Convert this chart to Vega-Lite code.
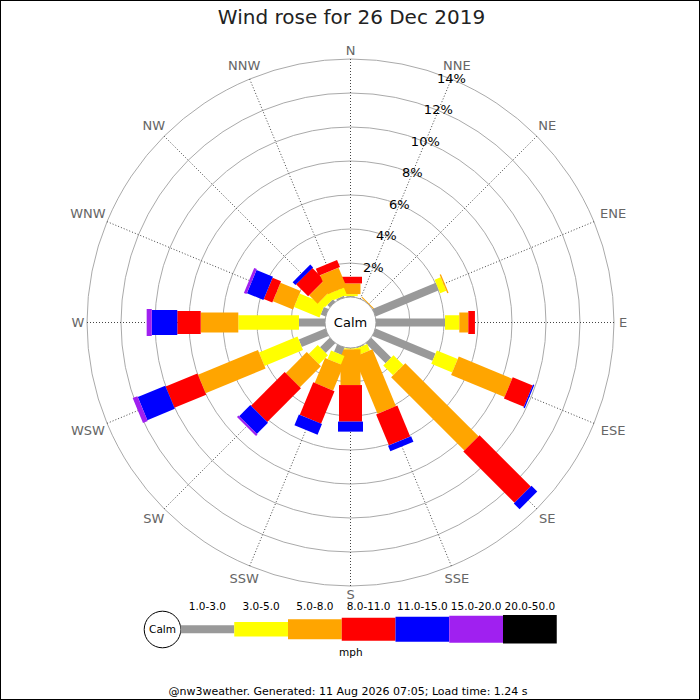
{
  "$schema": "https://vega.github.io/schema/vega-lite/v6.json",
  "width": 700,
  "height": 700,
  "autosize": "none",
  "padding": 0,
  "background": "white",
  "config": {
    "view": {"stroke": "black", "strokeWidth": 2},
    "text": {"font": "DejaVu Sans"}
  },
  "datasets": {
    "dirs": [
      {"dir": "N", "deg": 0}, {"dir": "NNE", "deg": 22.5}, {"dir": "NE", "deg": 45}, {"dir": "ENE", "deg": 67.5},
      {"dir": "E", "deg": 90}, {"dir": "ESE", "deg": 112.5}, {"dir": "SE", "deg": 135}, {"dir": "SSE", "deg": 157.5},
      {"dir": "S", "deg": 180}, {"dir": "SSW", "deg": 202.5}, {"dir": "SW", "deg": 225}, {"dir": "WSW", "deg": 247.5},
      {"dir": "W", "deg": 270}, {"dir": "WNW", "deg": 292.5}, {"dir": "NW", "deg": 315}, {"dir": "NNW", "deg": 337.5}
    ],
    "bins": [
      {"speed": "1.0-3.0", "order": 0}, {"speed": "3.0-5.0", "order": 1}, {"speed": "5.0-8.0", "order": 2},
      {"speed": "8.0-11.0", "order": 3}, {"speed": "11.0-15.0", "order": 4}, {"speed": "15.0-20.0", "order": 5},
      {"speed": "20.0-50.0", "order": 6}
    ],
    "rings": [{"pct": 2}, {"pct": 4}, {"pct": 6}, {"pct": 8}, {"pct": 10}, {"pct": 12}, {"pct": 14}],
    "rose": [
      {"dir": "N", "speed": "1.0-3.0", "pct": 0.05}, {"dir": "N", "speed": "3.0-5.0", "pct": 0.12},
      {"dir": "N", "speed": "5.0-8.0", "pct": 0.63}, {"dir": "N", "speed": "8.0-11.0", "pct": 0.39},
      {"dir": "NE", "speed": "5.0-8.0", "pct": 0.06},
      {"dir": "ENE", "speed": "1.0-3.0", "pct": 4.03}, {"dir": "ENE", "speed": "3.0-5.0", "pct": 0.39},
      {"dir": "ENE", "speed": "5.0-8.0", "pct": 0.08},
      {"dir": "E", "speed": "1.0-3.0", "pct": 4.06}, {"dir": "E", "speed": "3.0-5.0", "pct": 0.84},
      {"dir": "E", "speed": "5.0-8.0", "pct": 0.53}, {"dir": "E", "speed": "8.0-11.0", "pct": 0.39},
      {"dir": "ESE", "speed": "1.0-3.0", "pct": 3.82}, {"dir": "ESE", "speed": "3.0-5.0", "pct": 1.33},
      {"dir": "ESE", "speed": "5.0-8.0", "pct": 3.40}, {"dir": "ESE", "speed": "8.0-11.0", "pct": 1.27},
      {"dir": "ESE", "speed": "11.0-15.0", "pct": 0.08},
      {"dir": "SE", "speed": "1.0-3.0", "pct": 1.65}, {"dir": "SE", "speed": "3.0-5.0", "pct": 0.82},
      {"dir": "SE", "speed": "5.0-8.0", "pct": 6.09}, {"dir": "SE", "speed": "8.0-11.0", "pct": 4.26},
      {"dir": "SE", "speed": "11.0-15.0", "pct": 0.48},
      {"dir": "SSE", "speed": "1.0-3.0", "pct": 0.05}, {"dir": "SSE", "speed": "3.0-5.0", "pct": 0.40},
      {"dir": "SSE", "speed": "5.0-8.0", "pct": 3.62}, {"dir": "SSE", "speed": "8.0-11.0", "pct": 1.97},
      {"dir": "SSE", "speed": "11.0-15.0", "pct": 0.36},
      {"dir": "S", "speed": "1.0-3.0", "pct": 0.02}, {"dir": "S", "speed": "3.0-5.0", "pct": 0.06},
      {"dir": "S", "speed": "5.0-8.0", "pct": 2.10}, {"dir": "S", "speed": "8.0-11.0", "pct": 2.15},
      {"dir": "S", "speed": "11.0-15.0", "pct": 0.59},
      {"dir": "SSW", "speed": "1.0-3.0", "pct": 0.46}, {"dir": "SSW", "speed": "3.0-5.0", "pct": 0.54},
      {"dir": "SSW", "speed": "5.0-8.0", "pct": 1.59}, {"dir": "SSW", "speed": "8.0-11.0", "pct": 2.07},
      {"dir": "SSW", "speed": "11.0-15.0", "pct": 0.68},
      {"dir": "SW", "speed": "1.0-3.0", "pct": 0.80}, {"dir": "SW", "speed": "3.0-5.0", "pct": 0.75},
      {"dir": "SW", "speed": "5.0-8.0", "pct": 1.75}, {"dir": "SW", "speed": "8.0-11.0", "pct": 2.80},
      {"dir": "SW", "speed": "11.0-15.0", "pct": 0.93}, {"dir": "SW", "speed": "15.0-20.0", "pct": 0.12},
      {"dir": "WSW", "speed": "1.0-3.0", "pct": 1.70}, {"dir": "WSW", "speed": "3.0-5.0", "pct": 2.45},
      {"dir": "WSW", "speed": "5.0-8.0", "pct": 3.82}, {"dir": "WSW", "speed": "8.0-11.0", "pct": 2.02},
      {"dir": "WSW", "speed": "11.0-15.0", "pct": 1.75}, {"dir": "WSW", "speed": "15.0-20.0", "pct": 0.30},
      {"dir": "W", "speed": "1.0-3.0", "pct": 1.53}, {"dir": "W", "speed": "3.0-5.0", "pct": 3.57},
      {"dir": "W", "speed": "5.0-8.0", "pct": 2.21}, {"dir": "W", "speed": "8.0-11.0", "pct": 1.38},
      {"dir": "W", "speed": "11.0-15.0", "pct": 1.50}, {"dir": "W", "speed": "15.0-20.0", "pct": 0.30},
      {"dir": "WNW", "speed": "1.0-3.0", "pct": 0.30}, {"dir": "WNW", "speed": "3.0-5.0", "pct": 1.62},
      {"dir": "WNW", "speed": "5.0-8.0", "pct": 1.28}, {"dir": "WNW", "speed": "8.0-11.0", "pct": 0.54},
      {"dir": "WNW", "speed": "11.0-15.0", "pct": 1.05}, {"dir": "WNW", "speed": "15.0-20.0", "pct": 0.17},
      {"dir": "NW", "speed": "1.0-3.0", "pct": 0.20}, {"dir": "NW", "speed": "3.0-5.0", "pct": 0.45},
      {"dir": "NW", "speed": "5.0-8.0", "pct": 0.70}, {"dir": "NW", "speed": "8.0-11.0", "pct": 1.00},
      {"dir": "NW", "speed": "11.0-15.0", "pct": 0.23},
      {"dir": "NNW", "speed": "1.0-3.0", "pct": 0.10}, {"dir": "NNW", "speed": "3.0-5.0", "pct": 0.45},
      {"dir": "NNW", "speed": "5.0-8.0", "pct": 1.20}, {"dir": "NNW", "speed": "8.0-11.0", "pct": 0.45}
    ]
  },
  "layer": [
    {
      "data": {"name": "rings"},
      "transform": [{"calculate": "25.5 + 17 * datum.pct", "as": "r"}],
      "mark": {"type": "arc", "theta": 0, "theta2": 6.2832, "filled": false, "stroke": "#aaaaaa", "strokeWidth": 1},
      "encoding": {
        "x": {"datum": 0, "type": "quantitative", "scale": {"domain": [-350.5, 349.5], "nice": false, "zero": false}, "axis": null},
        "y": {"datum": 0, "type": "quantitative", "scale": {"domain": [-377.5, 322.5], "nice": false, "zero": false}, "axis": null},
        "radius": {"field": "r", "type": "quantitative", "scale": null, "stack": null}
      }
    },
    {
      "data": {"name": "dirs"},
      "transform": [
        {"calculate": "datum.deg * PI / 180", "as": "a"},
        {"calculate": "25.5 * sin(datum.a)", "as": "sx"},
        {"calculate": "25.5 * cos(datum.a)", "as": "sy"},
        {"calculate": "263.5 * sin(datum.a)", "as": "ex"},
        {"calculate": "263.5 * cos(datum.a)", "as": "ey"}
      ],
      "mark": {"type": "rule", "stroke": "#444444", "strokeWidth": 1, "strokeDash": [1, 2]},
      "encoding": {
        "x": {"field": "sx", "type": "quantitative", "scale": {"domain": [-350.5, 349.5], "nice": false, "zero": false}, "axis": null},
        "y": {"field": "sy", "type": "quantitative", "scale": {"domain": [-377.5, 322.5], "nice": false, "zero": false}, "axis": null},
        "x2": {"field": "ex"},
        "y2": {"field": "ey"}
      }
    },
    {
      "data": {"name": "rose"},
      "transform": [
        {"lookup": "dir", "from": {"data": {"name": "dirs"}, "key": "dir", "fields": ["deg"]}},
        {"lookup": "speed", "from": {"data": {"name": "bins"}, "key": "speed", "fields": ["order"]}},
        {"stack": "pct", "groupby": ["dir"], "sort": [{"field": "order", "order": "ascending"}], "as": ["p0", "p1"]},
        {"calculate": "datum.deg * PI / 180", "as": "a"},
        {"calculate": "(25.5 + 17 * datum.p0) * sin(datum.a)", "as": "bx0"},
        {"calculate": "(25.5 + 17 * datum.p0) * cos(datum.a)", "as": "by0"},
        {"calculate": "(25.5 + 17 * datum.p1) * sin(datum.a)", "as": "bx1"},
        {"calculate": "(25.5 + 17 * datum.p1) * cos(datum.a)", "as": "by1"}
      ],
      "mark": {"type": "rule", "strokeCap": "butt"},
      "encoding": {
        "x": {"field": "bx0", "type": "quantitative", "scale": {"domain": [-350.5, 349.5], "nice": false, "zero": false}, "axis": null},
        "y": {"field": "by0", "type": "quantitative", "scale": {"domain": [-377.5, 322.5], "nice": false, "zero": false}, "axis": null},
        "x2": {"field": "bx1"},
        "y2": {"field": "by1"},
        "color": {
          "field": "speed", "type": "nominal", "legend": null,
          "scale": {
            "domain": ["1.0-3.0", "3.0-5.0", "5.0-8.0", "8.0-11.0", "11.0-15.0", "15.0-20.0", "20.0-50.0"],
            "range": ["#999999", "#ffff00", "#ffa500", "#ff0000", "#0000ff", "#a020f0", "#000000"]
          }
        },
        "strokeWidth": {
          "field": "speed", "type": "ordinal", "legend": null,
          "scale": {
            "type": "ordinal",
            "domain": ["1.0-3.0", "3.0-5.0", "5.0-8.0", "8.0-11.0", "11.0-15.0", "15.0-20.0", "20.0-50.0"],
            "range": [8, 14.5, 20, 23, 25, 27, 28.5]
          }
        }
      }
    },
    {
      "data": {"values": [{"label": "Calm"}]},
      "mark": {"type": "arc", "theta": 0, "theta2": 6.2832, "fill": "white", "stroke": "#999999", "strokeWidth": 1},
      "encoding": {
        "x": {"datum": 0, "type": "quantitative", "scale": {"domain": [-350.5, 349.5], "nice": false, "zero": false}, "axis": null},
        "y": {"datum": 0, "type": "quantitative", "scale": {"domain": [-377.5, 322.5], "nice": false, "zero": false}, "axis": null},
        "radius": {"value": 25.5}
      }
    },
    {
      "data": {"values": [{"label": "Calm"}]},
      "mark": {"type": "text", "fontSize": 13, "color": "black", "align": "center", "baseline": "middle"},
      "encoding": {
        "x": {"datum": 0, "type": "quantitative", "scale": {"domain": [-350.5, 349.5], "nice": false, "zero": false}, "axis": null},
        "y": {"datum": 0, "type": "quantitative", "scale": {"domain": [-377.5, 322.5], "nice": false, "zero": false}, "axis": null},
        "text": {"field": "label"}
      }
    },
    {
      "data": {"name": "dirs"},
      "transform": [
        {"calculate": "datum.deg * PI / 180", "as": "a"},
        {"calculate": "267 + abs(sin(datum.a)) * length(datum.dir) * 5.5 + abs(cos(datum.a)) * 5", "as": "rl"},
        {"calculate": "datum.rl * sin(datum.a)", "as": "lx"},
        {"calculate": "datum.rl * cos(datum.a)", "as": "ly"}
      ],
      "mark": {"type": "text", "fontSize": 13, "color": "#666666", "align": "center", "baseline": "middle"},
      "encoding": {
        "x": {"field": "lx", "type": "quantitative", "scale": {"domain": [-350.5, 349.5], "nice": false, "zero": false}, "axis": null},
        "y": {"field": "ly", "type": "quantitative", "scale": {"domain": [-377.5, 322.5], "nice": false, "zero": false}, "axis": null},
        "text": {"field": "dir"}
      }
    },
    {
      "data": {"name": "rings"},
      "transform": [
        {"calculate": "25.5 + 17 * datum.pct", "as": "r"},
        {"calculate": "datum.r * sin(PI / 8)", "as": "tx"},
        {"calculate": "datum.r * cos(PI / 8)", "as": "ty"},
        {"calculate": "datum.pct + '%'", "as": "lab"}
      ],
      "mark": {"type": "text", "fontSize": 13, "color": "black", "align": "center", "baseline": "middle"},
      "encoding": {
        "x": {"field": "tx", "type": "quantitative", "scale": {"domain": [-350.5, 349.5], "nice": false, "zero": false}, "axis": null},
        "y": {"field": "ty", "type": "quantitative", "scale": {"domain": [-377.5, 322.5], "nice": false, "zero": false}, "axis": null},
        "text": {"field": "lab"}
      }
    },
    {
      "data": {"values": [{"label": "Calm"}]},
      "mark": {"type": "arc", "theta": 0, "theta2": 6.2832, "fill": "white", "stroke": "black", "strokeWidth": 1},
      "encoding": {
        "x": {"datum": -188, "type": "quantitative", "scale": {"domain": [-350.5, 349.5], "nice": false, "zero": false}, "axis": null},
        "y": {"datum": -307, "type": "quantitative", "scale": {"domain": [-377.5, 322.5], "nice": false, "zero": false}, "axis": null},
        "radius": {"value": 18.3}
      }
    },
    {
      "data": {"values": [{"label": "Calm"}]},
      "mark": {"type": "text", "fontSize": 10.5, "color": "black", "align": "center", "baseline": "middle"},
      "encoding": {
        "x": {"datum": -188, "type": "quantitative", "scale": {"domain": [-350.5, 349.5], "nice": false, "zero": false}, "axis": null},
        "y": {"datum": -307, "type": "quantitative", "scale": {"domain": [-377.5, 322.5], "nice": false, "zero": false}, "axis": null},
        "text": {"field": "label"}
      }
    },
    {
      "data": {"name": "bins"},
      "transform": [
        {"calculate": "-170 + 53.75 * datum.order", "as": "lx0"},
        {"calculate": "datum.lx0 + 53.75", "as": "lx1"}
      ],
      "mark": {"type": "rule", "strokeCap": "butt"},
      "encoding": {
        "x": {"field": "lx0", "type": "quantitative", "scale": {"domain": [-350.5, 349.5], "nice": false, "zero": false}, "axis": null},
        "x2": {"field": "lx1"},
        "y": {"datum": -306.7, "type": "quantitative", "scale": {"domain": [-377.5, 322.5], "nice": false, "zero": false}, "axis": null},
        "color": {
          "field": "speed", "type": "nominal", "legend": null,
          "scale": {
            "domain": ["1.0-3.0", "3.0-5.0", "5.0-8.0", "8.0-11.0", "11.0-15.0", "15.0-20.0", "20.0-50.0"],
            "range": ["#999999", "#ffff00", "#ffa500", "#ff0000", "#0000ff", "#a020f0", "#000000"]
          }
        },
        "strokeWidth": {
          "field": "speed", "type": "ordinal", "legend": null,
          "scale": {
            "type": "ordinal",
            "domain": ["1.0-3.0", "3.0-5.0", "5.0-8.0", "8.0-11.0", "11.0-15.0", "15.0-20.0", "20.0-50.0"],
            "range": [8, 14.5, 20, 23, 25, 27, 28.5]
          }
        }
      }
    },
    {
      "data": {"name": "bins"},
      "transform": [{"calculate": "-170 + 53.75 * datum.order + 26.875", "as": "lxm"}],
      "mark": {"type": "text", "fontSize": 10.5, "color": "black", "align": "center", "baseline": "middle"},
      "encoding": {
        "x": {"field": "lxm", "type": "quantitative", "scale": {"domain": [-350.5, 349.5], "nice": false, "zero": false}, "axis": null},
        "y": {"datum": -284.5, "type": "quantitative", "scale": {"domain": [-377.5, 322.5], "nice": false, "zero": false}, "axis": null},
        "text": {"field": "speed"}
      }
    },
    {
      "data": {"values": [{"label": "mph"}]},
      "mark": {"type": "text", "fontSize": 10.5, "color": "black", "align": "center", "baseline": "middle"},
      "encoding": {
        "x": {"datum": 0.3, "type": "quantitative", "scale": {"domain": [-350.5, 349.5], "nice": false, "zero": false}, "axis": null},
        "y": {"datum": -330.5, "type": "quantitative", "scale": {"domain": [-377.5, 322.5], "nice": false, "zero": false}, "axis": null},
        "text": {"field": "label"}
      }
    },
    {
      "data": {"values": [{"label": "@nw3weather. Generated: 11 Aug 2026 07:05; Load time: 1.24 s"}]},
      "mark": {"type": "text", "fontSize": 11, "color": "black", "align": "center", "baseline": "middle"},
      "encoding": {
        "x": {"datum": -2.5, "type": "quantitative", "scale": {"domain": [-350.5, 349.5], "nice": false, "zero": false}, "axis": null},
        "y": {"datum": -369.5, "type": "quantitative", "scale": {"domain": [-377.5, 322.5], "nice": false, "zero": false}, "axis": null},
        "text": {"field": "label"}
      }
    },
    {
      "data": {"values": [{"label": "Wind rose for 26 Dec 2019"}]},
      "mark": {"type": "text", "fontSize": 20, "color": "#222222", "align": "center", "baseline": "alphabetic"},
      "encoding": {
        "x": {"datum": 1, "type": "quantitative", "scale": {"domain": [-350.5, 349.5], "nice": false, "zero": false}, "axis": null},
        "y": {"datum": 298.5, "type": "quantitative", "scale": {"domain": [-377.5, 322.5], "nice": false, "zero": false}, "axis": null},
        "text": {"field": "label"}
      }
    }
  ]
}
